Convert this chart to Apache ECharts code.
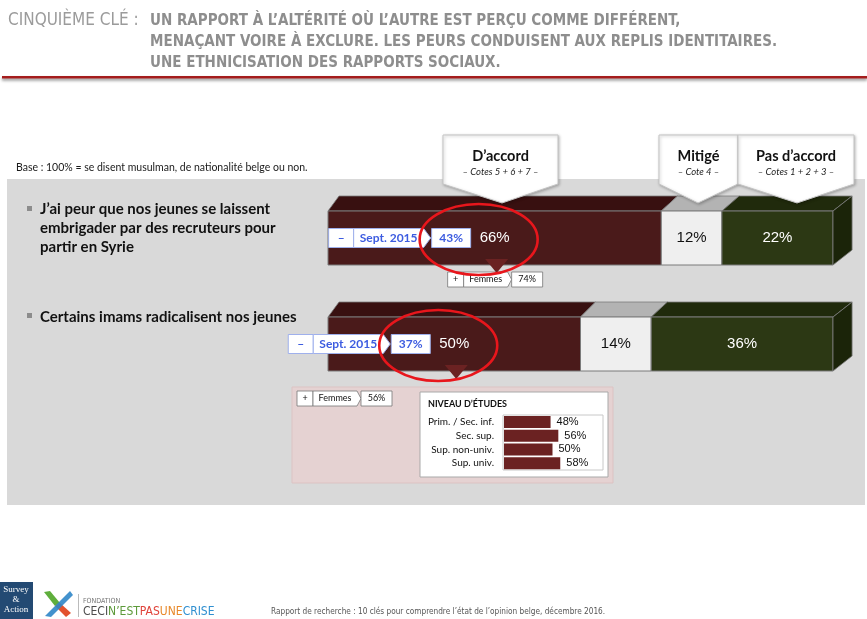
<!DOCTYPE html>
<html>
<head>
<meta charset="utf-8">
<script src="https://cdn.jsdelivr.net/npm/echarts/dist/echarts.min.js"></script>
<style>
  html, body { margin: 0; padding: 0; background: #ffffff; }
  #chart { width: 867px; height: 619px; }
</style>
</head>
<body>
<div id="chart"></div>
<script>
// Survey statements and answer shares (%)
const statements = ['Syrie', 'Imams'];
const agree = [66, 50];       // D'accord – cotes 5 + 6 + 7
const mixed = [12, 14];       // Mitigé – cote 4
const disagree = [22, 36];    // Pas d'accord – cotes 1 + 2 + 3
const sept2015 = [43, 37];    // D'accord, vague de septembre 2015
const women = [74, 56];       // D'accord parmi les femmes

// Education breakdown for the second statement
const eduLevels = ['Prim. / Sec. inf.', 'Sec. sup.', 'Sup. non-univ.', 'Sup. univ.'];
const eduAgree = [48, 56, 50, 58];

const SANS = '"Liberation Sans", Arial, sans-serif';
const BODY = 'Lato, "Open Sans", sans-serif';
const NARROW = '"Liberation Sans Narrow", "DejaVu Sans Condensed", sans-serif';

const FRONT_H = 54;
const DEPTH = 15;

// Build start/end ranges for the stacked 3D segments
function stackData(values, offsets) {
  return values.map((v, i) => [i, offsets[i], offsets[i] + v, v]);
}
const zeros = agree.map(() => 0);
const afterAgree = agree.slice();
const afterMixed = agree.map((v, i) => v + mixed[i]);

function segmentRenderer(st) {
  return function (params, api) {
    const cat = api.value(0);
    const a = api.value(1), b = api.value(2), val = api.value(3);
    const p0 = api.coord([a, cat]);
    const x0 = p0[0], yc = p0[1];
    const x1 = api.coord([b, cat])[0];
    const ox = api.coord([0, cat])[0];
    const back = x => x + 11 + (x - ox) * 0.016;
    const top = yc - FRONT_H / 2, bot = yc + FRONT_H / 2;
    const children = [
      { type: 'polygon', shape: { points: [[x0, top], [x1, top], [back(x1), top - DEPTH], [back(x0), top - DEPTH]] },
        style: { fill: st.top, stroke: '#7b7b7b', lineWidth: 0.8 } },
      { type: 'rect', shape: { x: x0, y: top, width: x1 - x0, height: FRONT_H },
        style: { fill: st.front, stroke: '#7b7b7b', lineWidth: 1 } }
    ];
    if (st.side) {
      children.push({ type: 'polygon',
        shape: { points: [[x1, top], [back(x1), top - DEPTH], [back(x1), bot - DEPTH], [x1, bot]] },
        style: { fill: st.side, stroke: '#7b7b7b', lineWidth: 0.8 } });
    }
    children.push({ type: 'text', z2: 5,
      style: { text: val + '%', x: (x0 + x1) / 2, y: yc, align: 'center', verticalAlign: 'middle',
               fill: st.text, font: '15px ' + SANS } });
    return { type: 'group', children };
  };
}

const chart = echarts.init(document.getElementById('chart'), null, { renderer: 'canvas' });

const option = {
  animation: false,
  backgroundColor: '#ffffff',
  grid: [
    { left: 328, top: 185, width: 505, height: 212 },
    { left: 504, top: 415, width: 97, height: 55 }
  ],
  xAxis: [
    { gridIndex: 0, type: 'value', min: 0, max: 100, show: false },
    { gridIndex: 1, type: 'value', min: 0, max: 100, show: false }
  ],
  yAxis: [
    { gridIndex: 0, type: 'category', data: statements, inverse: true, show: false },
    { gridIndex: 1, type: 'category', data: eduLevels, inverse: true, z: 10,
      axisLine: { show: false }, axisTick: { show: false }, splitLine: { show: false },
      axisLabel: { color: '#111', fontSize: 10, fontFamily: BODY, margin: 10 } }
  ],
  series: [
    { type: 'custom', name: "D'accord", xAxisIndex: 0, yAxisIndex: 0, z: 3,
      data: stackData(agree, zeros), encode: { x: [1, 2], y: 0 },
      renderItem: segmentRenderer({ front: '#4a1a1a', top: '#381010', text: '#ffffff' }) },
    { type: 'custom', name: 'Mitigé', xAxisIndex: 0, yAxisIndex: 0, z: 3,
      data: stackData(mixed, afterAgree), encode: { x: [1, 2], y: 0 },
      renderItem: segmentRenderer({ front: '#efefef', top: '#b3b3b3', text: '#111111' }) },
    { type: 'custom', name: "Pas d'accord", xAxisIndex: 0, yAxisIndex: 0, z: 3,
      data: stackData(disagree, afterMixed), encode: { x: [1, 2], y: 0 },
      renderItem: segmentRenderer({ front: '#2c3814', top: '#202a0c', side: '#1b2409', text: '#ffffff' }) },
    { type: 'bar', name: 'Niveau', xAxisIndex: 1, yAxisIndex: 1, z: 5,
      data: eduAgree, barWidth: 12,
      itemStyle: { color: '#6b2222' },
      label: { show: true, position: 'right', distance: 6, formatter: '{c}%',
               color: '#111', fontSize: 11, fontFamily: SANS } }
  ]
};
chart.setOption(option);

// ---------- static page furniture ----------
const g = [];
function txt(x, y, text, font, fill, extra) {
  g.push(Object.assign({ type: 'text', z: 20,
    style: { x, y, text, font, fill, align: 'left', verticalAlign: 'middle' } }, extra || {}));
}

// header
txt(8, 21, 'CINQUIÈME CLÉ :', '17px ' + NARROW, '#9b9b9b');
txt(150, 21, 'UN RAPPORT À L’ALTÉRITÉ OÙ L’AUTRE EST PERÇU COMME DIFFÉRENT,', 'bold 15px ' + NARROW, '#8e8e8e');
txt(150, 42.5, 'MENAÇANT VOIRE À EXCLURE. LES PEURS CONDUISENT AUX REPLIS IDENTITAIRES.', 'bold 15px ' + NARROW, '#8e8e8e');
txt(150, 63, 'UNE ETHNICISATION DES RAPPORTS SOCIAUX.', 'bold 15px ' + NARROW, '#8e8e8e');
g.push({ type: 'rect', z: 20, shape: { x: 2, y: 76, width: 865, height: 2.5 },
  style: { fill: '#a51d1d', shadowBlur: 3, shadowColor: 'rgba(0,0,0,0.45)', shadowOffsetY: 2 } });

txt(16, 168, 'Base : 100% = se disent musulman, de nationalité belge ou non.', '10.5px ' + BODY, '#1a1a1a');

// grey panel
g.push({ type: 'rect', z: 0, shape: { x: 7, y: 179, width: 858, height: 326 }, style: { fill: '#d9d9d9' } });

// statements
g.push({ type: 'rect', z: 20, shape: { x: 27, y: 206, width: 5, height: 5 }, style: { fill: '#8c8c8c' } });
txt(40, 209, 'J’ai peur que nos jeunes se laissent', 'bold 15px ' + BODY, '#111');
txt(40, 228, 'embrigader par des recruteurs pour', 'bold 15px ' + BODY, '#111');
txt(40, 247, 'partir en Syrie', 'bold 15px ' + BODY, '#111');
g.push({ type: 'rect', z: 20, shape: { x: 27, y: 313, width: 5, height: 5 }, style: { fill: '#8c8c8c' } });
txt(40, 317, 'Certains imams radicalisent nos jeunes', 'bold 15px ' + BODY, '#111');

// column callouts
function callout(x0, x1, tipX, title, sub) {
  g.push({ type: 'polygon', z: 15,
    shape: { points: [[x0, 135], [x1, 135], [x1, 184], [tipX, 203], [x0, 184]] },
    style: { fill: '#ffffff', stroke: '#c4c4c4', lineWidth: 1,
             shadowBlur: 3, shadowColor: 'rgba(0,0,0,0.25)', shadowOffsetX: 1, shadowOffsetY: 1 } });
  g.push({ type: 'text', z: 16, style: { x: (x0 + x1) / 2, y: 156, text: title, align: 'center',
    verticalAlign: 'middle', font: 'bold 14.5px ' + BODY, fill: '#111' } });
  g.push({ type: 'text', z: 16, style: { x: (x0 + x1) / 2, y: 172, text: sub, align: 'center',
    verticalAlign: 'middle', font: 'italic 9.5px ' + BODY, fill: '#222' } });
}
callout(443, 558, 502, 'D’accord', '– Cotes 5 + 6 + 7 –');
callout(659, 738, 698, 'Mitigé', '– Cote 4 –');
callout(738, 854, 797, 'Pas d’accord', '– Cotes 1 + 2 + 3 –');

// pink breakdown panel and education box
g.push({ type: 'rect', z: 1, shape: { x: 292, y: 387, width: 321, height: 96 },
  style: { fill: '#e5d2d2', stroke: '#dcc3c3', lineWidth: 1 } });
g.push({ type: 'rect', z: 1, shape: { x: 420, y: 392, width: 188, height: 85 },
  style: { fill: '#ffffff', stroke: '#a9a9a9', lineWidth: 1 } });
g.push({ type: 'rect', z: 1, shape: { x: 503, y: 415, width: 100, height: 55 },
  style: { fill: '#ffffff', stroke: '#c8c8c8', lineWidth: 1 } });
txt(428, 404, 'NIVEAU D’ÉTUDES', 'bold 9px ' + BODY, '#111');

// footer
g.push({ type: 'rect', z: 20, shape: { x: 0, y: 582, width: 33, height: 37 }, style: { fill: '#234a73' } });
['Survey', '&', 'Action'].forEach((s, i) => {
  g.push({ type: 'text', z: 21, style: { x: 16, y: 590 + i * 10, text: s, align: 'center',
    verticalAlign: 'middle', font: '9px "Liberation Serif", "DejaVu Serif", serif', fill: '#ffffff' } });
});
g.push({ type: 'polygon', z: 20, shape: { points: [[44, 592], [50, 591], [60, 603], [55, 606]] }, style: { fill: '#5fae3c' } });
g.push({ type: 'polygon', z: 20, shape: { points: [[55, 606], [60, 603], [71, 613], [66, 617]] }, style: { fill: '#e2522e' } });
g.push({ type: 'polygon', z: 20, shape: { points: [[70, 591], [73, 595], [51, 617], [45, 616]] }, style: { fill: '#2f86c8', opacity: 0.9 } });
g.push({ type: 'rect', z: 20, shape: { x: 78, y: 594, width: 0.8, height: 23 }, style: { fill: '#aaaaaa' } });
txt(83, 601, 'FONDATION', '7px ' + NARROW, '#777');
g.push({ type: 'text', z: 20, style: { x: 83, y: 612, verticalAlign: 'middle',
  text: '{a|CECI}{b|N’EST}{c|PAS}{d|UNE}{e|CRISE}',
  rich: {
    a: { fill: '#4d4d4d', font: '12px ' + NARROW },
    b: { fill: '#5d9a3a', font: '12px ' + NARROW },
    c: { fill: '#e0433a', font: '12px ' + NARROW },
    d: { fill: '#e8892b', font: '12px ' + NARROW },
    e: { fill: '#2f8fd0', font: '12px ' + NARROW }
  } } });
txt(271, 612, 'Rapport de recherche : 10 clés pour comprendre l’état de l’opinion belge, décembre 2016.', '8.2px ' + NARROW, '#555');

// ---------- annotations anchored on the D'accord segments ----------
const BLUE = '#3d5ce0';
const BLUE_EDGE = '#9fb0ec';
function agreeCenter(i) {
  return chart.convertToPixel({ gridIndex: 0 }, [agree[i] / 2, i]);
}
function tagSept(i) {
  const c = agreeCenter(i);
  const vbR = c[0] - 24, y0 = c[1] - 9.5, h = 19;
  const xs = vbR - 142;
  g.push({ type: 'rect', z: 12, shape: { x: xs, y: y0, width: 25, height: h },
    style: { fill: '#fff', stroke: BLUE_EDGE, lineWidth: 1 } });
  g.push({ type: 'polygon', z: 12, shape: { points: [[xs + 25, y0], [xs + 95, y0], [xs + 102, y0 + h / 2], [xs + 95, y0 + h], [xs + 25, y0 + h]] },
    style: { fill: '#fff', stroke: BLUE_EDGE, lineWidth: 1 } });
  g.push({ type: 'rect', z: 12, shape: { x: vbR - 39, y: y0, width: 39, height: h },
    style: { fill: '#fff', stroke: BLUE_EDGE, lineWidth: 1 } });
  const t = (x, s) => g.push({ type: 'text', z: 13, style: { x, y: c[1], text: s, align: 'center',
    verticalAlign: 'middle', font: 'bold 12px ' + BODY, fill: BLUE } });
  t(xs + 12.5, '–');
  t(xs + 60, 'Sept. 2015');
  t(vbR - 19.5, sept2015[i] + '%');
}
function pointer(i) {
  const c = agreeCenter(i);
  const bot = c[1] + FRONT_H / 2;
  const cx = c[0] + 2;
  g.push({ type: 'polygon', z: 12, shape: { points: [[cx - 11.5, bot - 6], [cx + 11.5, bot - 6], [cx, bot + 8]] },
    style: { fill: '#6b2222' } });
}
function tagWomen(x, y, v) {
  const h = 15;
  g.push({ type: 'rect', z: 11, shape: { x, y, width: 16, height: h },
    style: { fill: '#fff', stroke: '#777', lineWidth: 0.8 } });
  g.push({ type: 'polygon', z: 11, shape: { points: [[x + 16, y], [x + 60, y], [x + 64, y + h / 2], [x + 60, y + h], [x + 16, y + h]] },
    style: { fill: '#fff', stroke: '#777', lineWidth: 0.8 } });
  g.push({ type: 'rect', z: 11, shape: { x: x + 64, y, width: 31, height: h },
    style: { fill: '#fff', stroke: '#777', lineWidth: 0.8 } });
  const t = (tx, s) => g.push({ type: 'text', z: 11, style: { x: tx, y: y + h / 2, text: s, align: 'center',
    verticalAlign: 'middle', font: '9px ' + BODY, fill: '#111' } });
  t(x + 8, '+');
  t(x + 38, 'Femmes');
  t(x + 79.5, v + '%');
}
function ring(i) {
  const c = agreeCenter(i);
  g.push({ type: 'ellipse', z: 14, shape: { cx: c[0] - 16, cy: c[1] + 1.5, rx: 59, ry: 35.5 },
    style: { fill: 'none', stroke: '#e8161c', lineWidth: 2.6 } });
}

agree.forEach((v, i) => { tagSept(i); pointer(i); ring(i); });
const c0 = agreeCenter(0);
tagWomen(c0[0] - 47, c0[1] + FRONT_H / 2 + 7, women[0]);
tagWomen(297, 391, women[1]);

chart.setOption({ graphic: { elements: g } });
</script>
</body>
</html>
